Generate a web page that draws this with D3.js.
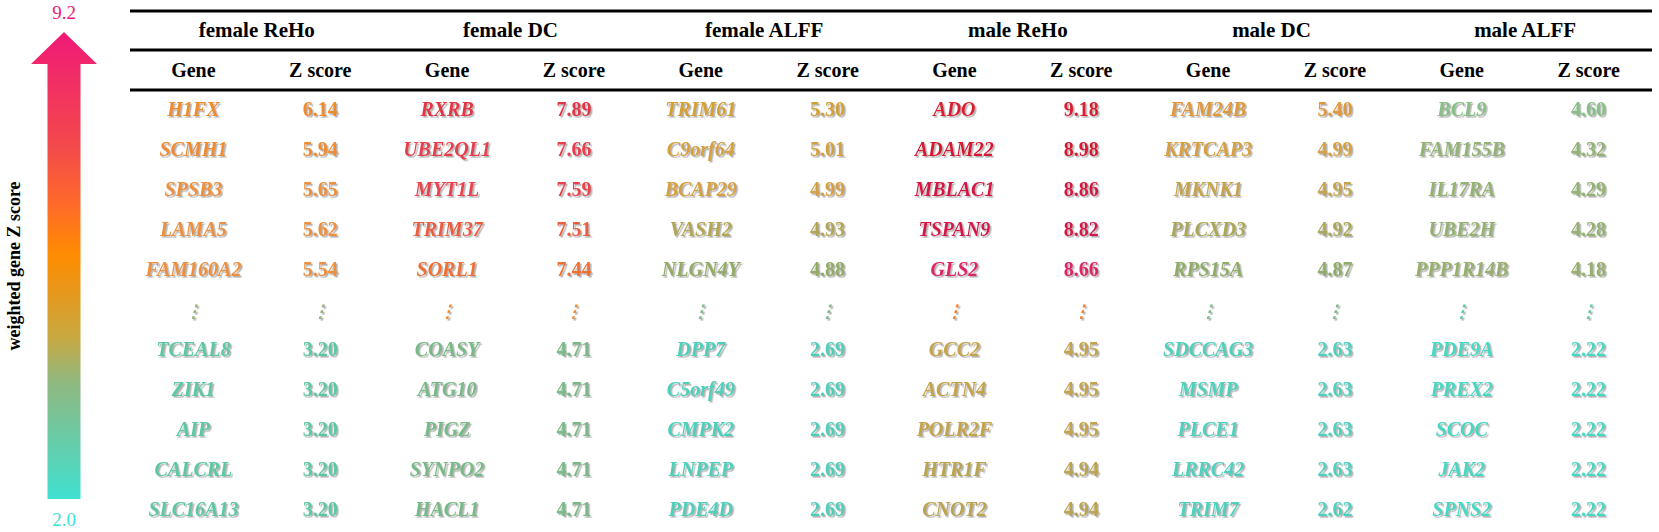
<!DOCTYPE html>
<html>
<head>
<meta charset="utf-8">
<script src="https://cdn.jsdelivr.net/npm/d3@7"></script>
<style>
  html, body { margin: 0; padding: 0; background: #ffffff; }
  svg { display: block; }
</style>
</head>
<body>
<div id="chart"></div>
<script>
// ---------------- DATA ----------------
const groups = ["female ReHo", "female DC", "female ALFF", "male ReHo", "male DC", "male ALFF"];
const subColumns = ["Gene", "Z score"];

const femaleReHoGenes = ["H1FX", "SCMH1", "SPSB3", "LAMA5", "FAM160A2", "TCEAL8", "ZIK1", "AIP", "CALCRL", "SLC16A13"];
const femaleReHoZ = [6.14, 5.94, 5.65, 5.62, 5.54, 3.20, 3.20, 3.20, 3.20, 3.20];

const femaleDCGenes = ["RXRB", "UBE2QL1", "MYT1L", "TRIM37", "SORL1", "COASY", "ATG10", "PIGZ", "SYNPO2", "HACL1"];
const femaleDCZ = [7.89, 7.66, 7.59, 7.51, 7.44, 4.71, 4.71, 4.71, 4.71, 4.71];

const femaleALFFGenes = ["TRIM61", "C9orf64", "BCAP29", "VASH2", "NLGN4Y", "DPP7", "C5orf49", "CMPK2", "LNPEP", "PDE4D"];
const femaleALFFZ = [5.30, 5.01, 4.99, 4.93, 4.88, 2.69, 2.69, 2.69, 2.69, 2.69];

const maleReHoGenes = ["ADO", "ADAM22", "MBLAC1", "TSPAN9", "GLS2", "GCC2", "ACTN4", "POLR2F", "HTR1F", "CNOT2"];
const maleReHoZ = [9.18, 8.98, 8.86, 8.82, 8.66, 4.95, 4.95, 4.95, 4.94, 4.94];

const maleDCGenes = ["FAM24B", "KRTCAP3", "MKNK1", "PLCXD3", "RPS15A", "SDCCAG3", "MSMP", "PLCE1", "LRRC42", "TRIM7"];
const maleDCZ = [5.40, 4.99, 4.95, 4.92, 4.87, 2.63, 2.63, 2.63, 2.63, 2.62];

const maleALFFGenes = ["BCL9", "FAM155B", "IL17RA", "UBE2H", "PPP1R14B", "PDE9A", "PREX2", "SCOC", "JAK2", "SPNS2"];
const maleALFFZ = [4.60, 4.32, 4.29, 4.28, 4.18, 2.22, 2.22, 2.22, 2.22, 2.22];

const colorbarTicks = [2.0, 9.2];
const colorbarTitle = "weighted gene Z score";
const topN = 5;        // rows shown before the ellipsis
const ellipsisMark = "\u22EE";

// ---------------- BUILD ----------------
const geneLists = [femaleReHoGenes, femaleDCGenes, femaleALFFGenes, maleReHoGenes, maleDCGenes, maleALFFGenes];
const zLists = [femaleReHoZ, femaleDCZ, femaleALFFZ, maleReHoZ, maleDCZ, maleALFFZ];

const W = 1659, H = 532;
const svg = d3.select("#chart").append("svg").attr("width", W).attr("height", H);

const defs = svg.append("defs");
const shadow = defs.append("filter").attr("id", "shadow")
  .attr("x", "-10%").attr("y", "-30%").attr("width", "130%").attr("height", "160%");
shadow.append("feDropShadow")
  .attr("dx", 1.6).attr("dy", 1.6).attr("stdDeviation", 0.7)
  .attr("flood-color", "#8a8a8a").attr("flood-opacity", 0.65);

// text colour scale (value -> colour)
const textColor = d3.scaleLinear()
  .domain([2.2, 2.7, 3.2, 4.2, 4.6, 4.75, 4.9, 4.97, 5.3, 5.5, 6.2, 7.45, 7.6, 8.0, 8.68, 8.84, 9.0, 9.2])
  .range(["#46d8c4", "#4ecfbc", "#5cc8a2", "#98ae6c", "#88bf86", "#72b888", "#98aa60", "#d6a040",
          "#d4a030", "#ec9040", "#f08a26", "#f07032", "#e84050", "#e03040", "#e0206a", "#d41848",
          "#d81830", "#dc2030"])
  .clamp(true);

// colour bar scale (value -> colour)
const barColor = d3.scaleLinear()
  .domain([2.0, 3.8, 4.5, 5.75, 6.55, 7.4, 9.2])
  .range(["#40e0d0", "#90b880", "#c8a840", "#ff8c00", "#ff6a2a", "#f34a4a", "#f01a78"]);

const serif = "'Liberation Serif', 'Times New Roman', 'DejaVu Serif', serif";

// ---------------- TABLE ----------------
const x = d3.scaleBand().domain(groups).range([130, 1652]);
const xSub = d3.scalePoint().domain(subColumns).range([0, x.bandwidth()]).padding(0.5);
const rowIdx = d3.range(2 * topN + 1);
const y = d3.scalePoint().domain(rowIdx).range([109, 509]);

const table = svg.append("g").attr("font-family", serif);

// rules
[11, 50, 90].forEach(yy => {
  table.append("line")
    .attr("x1", x.range()[0]).attr("x2", x.range()[1])
    .attr("y1", yy).attr("y2", yy)
    .attr("stroke", "#000").attr("stroke-width", 3);
});

// group titles
table.selectAll("text.group").data(groups).join("text")
  .attr("class", "group")
  .attr("x", d => x(d) + x.bandwidth() / 2)
  .attr("y", 37)
  .attr("text-anchor", "middle")
  .attr("font-weight", "bold")
  .attr("font-size", 21)
  .attr("fill", "#000")
  .text(d => d);

// sub-column titles
groups.forEach(g => {
  table.selectAll(null).data(subColumns).join("text")
    .attr("x", d => x(g) + xSub(d))
    .attr("y", 77)
    .attr("text-anchor", "middle")
    .attr("font-weight", "bold")
    .attr("font-size", 20)
    .attr("fill", "#000")
    .text(d => d);
});

const fmt = d3.format(".2f");
const baselineShift = 6.6;

groups.forEach((g, gi) => {
  const genes = geneLists[gi];
  const zs = zLists[gi];
  const rows = genes.map((gene, i) => ({
    gene, z: zs[i], row: i < topN ? i : i + 1
  }));
  const cg = table.append("g").attr("filter", "url(#shadow)");

  cg.selectAll("text.gene").data(rows).join("text")
    .attr("class", "gene")
    .attr("x", x(g) + xSub("Gene"))
    .attr("y", d => y(d.row) + baselineShift)
    .attr("text-anchor", "middle")
    .attr("font-weight", "bold")
    .attr("font-style", "italic")
    .attr("font-size", 20)
    .attr("fill", d => textColor(d.z))
    .text(d => d.gene);

  cg.selectAll("text.z").data(rows).join("text")
    .attr("class", "z")
    .attr("x", x(g) + xSub("Z score"))
    .attr("y", d => y(d.row) + baselineShift)
    .attr("text-anchor", "middle")
    .attr("font-weight", "bold")
    .attr("font-size", 20)
    .attr("fill", d => textColor(d.z))
    .text(d => fmt(d.z));

  // ellipsis row
  const midVal = (zs[topN - 1] + zs[topN]) / 2;
  cg.selectAll("text.ell").data(subColumns).join("text")
    .attr("class", "ell")
    .attr("x", d => x(g) + xSub(d))
    .attr("y", y(topN) + 8)
    .attr("text-anchor", "middle")
    .attr("font-family", "'DejaVu Serif', serif")
    .attr("font-weight", "bold")
    .attr("font-style", "italic")
    .attr("font-size", 17)
    .attr("fill", textColor(midVal))
    .text(ellipsisMark);
});

// ---------------- COLOUR BAR ----------------
const yBar = d3.scaleLinear().domain(d3.extent(colorbarTicks)).range([499, 32]);
const grad = defs.append("linearGradient").attr("id", "barGrad")
  .attr("x1", 0).attr("y1", 1).attr("x2", 0).attr("y2", 0);
const nStops = 40;
d3.range(nStops + 1).forEach(i => {
  const t = i / nStops;
  const v = yBar.domain()[0] + t * (yBar.domain()[1] - yBar.domain()[0]);
  grad.append("stop").attr("offset", t).attr("stop-color", barColor(v));
});

const cx = 64, shaftHalf = 16.5, headHalf = 33, headLen = 32;
const arrowTop = yBar(colorbarTicks[1]), arrowBottom = yBar(colorbarTicks[0]);
const p = d3.path();
p.moveTo(cx, arrowTop);
p.lineTo(cx + headHalf, arrowTop + headLen);
p.lineTo(cx + shaftHalf, arrowTop + headLen);
p.lineTo(cx + shaftHalf, arrowBottom);
p.lineTo(cx - shaftHalf, arrowBottom);
p.lineTo(cx - shaftHalf, arrowTop + headLen);
p.lineTo(cx - headHalf, arrowTop + headLen);
p.closePath();
svg.append("path").attr("d", p.toString()).attr("fill", "url(#barGrad)");

svg.append("text").attr("x", cx).attr("y", 19)
  .attr("text-anchor", "middle").attr("font-family", serif).attr("font-size", 19)
  .attr("fill", barColor(colorbarTicks[1])).text(d3.format(".1f")(colorbarTicks[1]));
svg.append("text").attr("x", cx).attr("y", 526)
  .attr("text-anchor", "middle").attr("font-family", serif).attr("font-size", 19)
  .attr("fill", barColor(colorbarTicks[0])).text(d3.format(".1f")(colorbarTicks[0]));

svg.append("text")
  .attr("transform", "translate(20,266) rotate(-90)")
  .attr("text-anchor", "middle")
  .attr("font-family", serif).attr("font-weight", "bold").attr("font-size", 18)
  .attr("fill", "#000")
  .text(colorbarTitle);
</script>
</body>
</html>
